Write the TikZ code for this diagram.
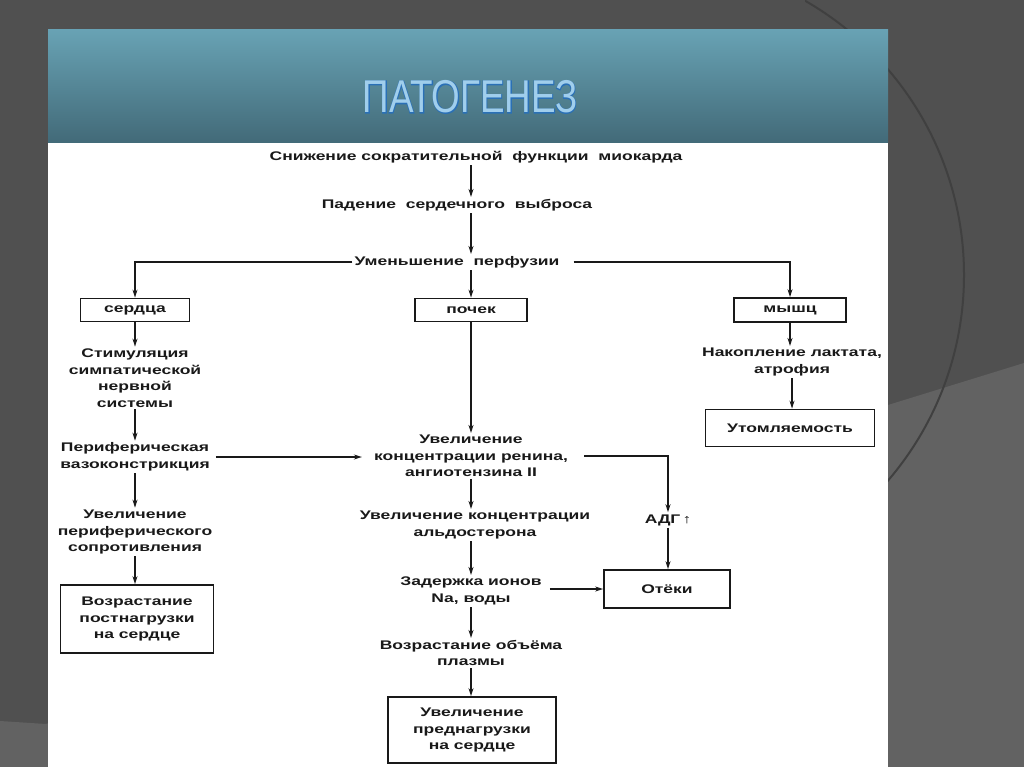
\documentclass[tikz,border=0pt]{standalone}
\usepackage{fontspec}
\newfontfamily\diagfont{Liberation Sans}[FakeStretch=1.4]
\newfontfamily\titlefont{Liberation Sans}[FakeStretch=0.8]
\newfontfamily\titleedge{Liberation Sans}[FakeStretch=0.8,FakeBold=3]
\usetikzlibrary{arrows.meta,positioning}
\pgfdeclarelayer{background}
\pgfsetlayers{background,main}
\definecolor{slidegray}{RGB}{80,80,80}
\definecolor{slidelight}{RGB}{98,98,98}
\definecolor{arcgray}{RGB}{64,64,64}
\definecolor{bandtop}{RGB}{104,162,180}
\definecolor{bandbot}{RGB}{66,106,120}
\definecolor{titlefill}{RGB}{160,206,236}
\definecolor{titleline}{RGB}{42,112,182}
\tikzstyle{txt}=[align=center,inner sep=2pt,text=black!90,font={\diagfont\bfseries\fontsize{12.5}{16.5}\selectfont}]
\tikzstyle{box}=[txt,draw=black!90,line width=1.8pt]
\tikzstyle{edge}=[draw,black!90,line width=1.3pt,-{Stealth[length=8pt,width=5pt]}]
\tikzstyle{heading}=[inner sep=0pt,font={\fontsize{46}{46}\selectfont}]

\begin{document}
\begin{tikzpicture}[x=1pt,y=-1pt]
	\useasboundingbox (0,0) rectangle (1024,767);
	% slide behind the scheme
	\begin{pgfonlayer}{background}
		\fill[slidegray] (0,0) rectangle (1024,767);
		\fill[slidelight] (0,721) -- (46,724) -- (888,405) -- (1024,363) -- (1024,767) -- (0,767) -- cycle;
		\begin{scope}
			\clip (805,0) rectangle (1024,767);
			\draw[arcgray,line width=2pt] (648,275) circle [radius=316pt];
		\end{scope}
		\shade[top color=bandtop,bottom color=bandbot] (48,30) rectangle (888,143);
		\fill[white] (48,143) rectangle (888,767);
	\end{pgfonlayer}

	\node[heading,text=titleline] (titleback) at (470,97) {\titleedge ПАТОГЕНЕЗ};
	\node[heading,text=titlefill] (titlefront) at (titleback) {\titlefont ПАТОГЕНЕЗ};

	% First the plain text steps
	\foreach \pos/\name/\text in {{(476,157)/top/Снижение сократительной\ \ функции\ \ миокарда},
		{(457,205)/drop/Падение\ \ сердечного\ \ выброса}, {(457,262)/perf/Уменьшение\ \ перфузии},
		{(135,378)/symp/Стимуляция\\симпатической\\нервной\\системы},
		{(135,457)/vaso/Периферическая\\вазоконстрикция},
		{(135,532)/resist/Увеличение\\периферического\\сопротивления},
		{(471,456)/renin/Увеличение\\концентрации ренина,\\ангиотензина II},
		{(475,525)/aldo/Увеличение концентрации\\альдостерона},
		{(471,591)/natr/Задержка ионов\\Na, воды}, {(471,653)/plasma/Возрастание объёма\\плазмы},
		{(792,362)/lactate/Накопление лактата,\\атрофия}, {(668,520)/adh/АДГ\,↑}}
	\node[txt] (\name) at \pos {\text};

	% Then the framed steps
	\foreach \pos/\name/\w/\h/\text in {{(135,310)/heart/109/23/сердца}, {(471,310)/kid/112/23/почек},
		{(790,310)/muscle/112/24/мышц}, {(137,619)/after/153/68/Возрастание\\постнагрузки\\на сердце},
		{(472,730)/preload/168/66/Увеличение\\преднагрузки\\на сердце},
		{(790,428)/fatigue/169/37/Утомляемость}, {(667,589)/edema/126/38/Отёки}}
	\node[box,minimum width=\w pt,minimum height=\h pt] (\name) at \pos {\text};

	% Connect the steps
	\path[edge] (top.south -| kid) -- (drop.north -| kid);
	\path[edge] (drop.south -| kid) -- (perf.north -| kid);
	\path[edge] (perf.south -| kid) -- (kid.north);
	\path[edge] (perf.west) -| (heart.north);
	\path[edge] (perf.east) ++(12,0) -| (muscle.north);

	\foreach \source/\dest in {heart/symp, symp/vaso, vaso/resist, resist/after,
		kid/renin, natr/plasma, plasma/preload, muscle/lactate, lactate/fatigue, adh/edema}
	\path[edge] (\source.south) -- (\dest.north -| \source.south);

	\path[edge] (renin.south) -- (aldo.north -| renin.south);
	\path[edge] (aldo.south -| natr) -- (natr.north);
	\path[edge,shorten <=4pt,shorten >=10pt] (vaso.east) -- (vaso.east -| renin.west);
	\path[edge,shorten <=14pt] (renin.east) -| (adh.north);
	\path[edge,shorten <=6pt] (natr.east |- edema) -- (edema.west);
\end{tikzpicture}
\end{document}
